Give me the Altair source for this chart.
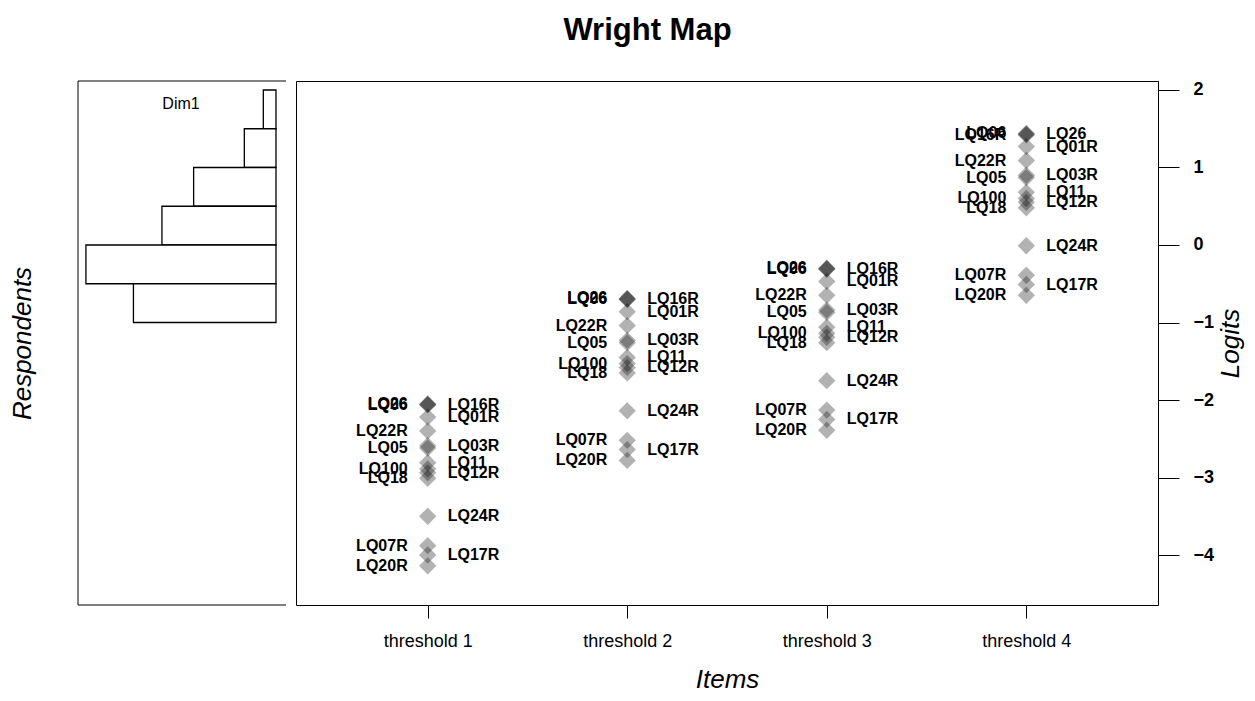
import altair as alt
import pandas as pd

FONT = "Liberation Sans"

# ---- data ----
items = ["LQ26", "LQ06", "LQ16R", "LQ01R", "LQ22R", "LQ03R", "LQ05", "LQ11",
         "LQ100", "LQ12R", "LQ18", "LQ24R", "LQ07R", "LQ17R", "LQ20R"]
thresholds = ["threshold 1", "threshold 2", "threshold 3", "threshold 4"]

t1 = [-2.05, -2.06, -2.06, -2.22, -2.40, -2.59, -2.62, -2.81, -2.89, -2.94, -3.01, -3.50, -3.88, -4.00, -4.14]
t2 = [-0.69, -0.70, -0.70, -0.86, -1.04, -1.23, -1.26, -1.45, -1.53, -1.58, -1.65, -2.14, -2.52, -2.64, -2.78]
t3 = [-0.30, -0.31, -0.31, -0.47, -0.65, -0.84, -0.87, -1.06, -1.14, -1.19, -1.26, -1.75, -2.13, -2.25, -2.39]
t4 = [1.43, 1.44, 1.42, 1.27, 1.09, 0.90, 0.87, 0.68, 0.60, 0.55, 0.48, -0.01, -0.39, -0.51, -0.65]

side_a = ["L", "L", "R", "R", "L", "R", "L", "R", "L", "R", "L", "R", "L", "R", "L"]
side_b = ["R", "L", "L", "R", "L", "R", "L", "R", "L", "R", "L", "R", "L", "R", "L"]

bin_lo = [1.5, 1.0, 0.5, 0.0, -0.5, -1.0]
bin_hi = [2.0, 1.5, 1.0, 0.5, 0.0, -0.5]
counts = [4, 10, 26, 36, 60, 45]

rows = []
for name, vals, sides in zip(thresholds, [t1, t2, t3, t4], [side_a, side_a, side_a, side_b]):
    for it, v, s in zip(items, vals, sides):
        rows.append({"threshold": name, "item": it, "logit": v, "side": s})
df = pd.DataFrame(rows)
hist = pd.DataFrame({"lo": bin_lo, "hi": bin_hi, "n": counts})

H = 524
WM = 862
WL = 208
yscale = alt.Scale(domain=[-4.645, 2.116], nice=False, zero=False)

# ---- main panel ----
xscale = alt.Scale(type="point", domain=thresholds, padding=0.66)
base = alt.Chart(df).encode(
    x=alt.X("threshold:O", scale=xscale, sort=thresholds,
            axis=alt.Axis(title="Items", orient="bottom", domain=False, grid=False,
                          tickSize=13, tickColor="black", tickWidth=1,
                          labelAngle=0, labelFont=FONT, labelFontSize=18, labelColor="black",
                          labelPadding=14,
                          titleFont=FONT, titleFontSize=26, titleFontStyle="italic",
                          titleFontWeight="normal", titleColor="black", titlePadding=16)),
    y=alt.Y("logit:Q", scale=yscale,
            axis=alt.Axis(title="Logits", orient="right", domain=False, grid=False,
                          values=[-4, -3, -2, -1, 0, 1, 2],
                          tickSize=21, tickColor="black", tickWidth=1,
                          labelFont=FONT, labelFontSize=18, labelFontWeight="bold",
                          labelColor="black", labelPadding=14,
                          titleFont=FONT, titleFontSize=26, titleFontStyle="italic",
                          titleFontWeight="normal", titleColor="black", titleAngle=270,
                          titleBaseline="top", titlePadding=4)),
)
pts = base.mark_point(shape="diamond", filled=True, size=300, color="black",
                      opacity=0.3, strokeWidth=0)
lbl_l = base.transform_filter(alt.datum.side == "L").mark_text(
    align="right", baseline="middle", dx=-20, font=FONT, fontWeight="bold",
    fontSize=16, color="black").encode(text="item:N")
lbl_r = base.transform_filter(alt.datum.side == "R").mark_text(
    align="left", baseline="middle", dx=20, font=FONT, fontWeight="bold",
    fontSize=16, color="black").encode(text="item:N")
main = alt.layer(pts, lbl_l, lbl_r).properties(width=WM, height=H)

# ---- respondents histogram ----
bars = alt.Chart(hist).mark_bar(fill="white", stroke="black", strokeWidth=1.3).encode(
    y=alt.Y("lo:Q", scale=yscale,
            axis=alt.Axis(title="Respondents", labels=False, ticks=False, domain=False,
                          grid=False, titleFont=FONT, titleFontSize=26,
                          titleFontStyle="italic", titleFontWeight="normal",
                          titleColor="black", titlePadding=43)),
    y2="hi:Q",
    x=alt.X("n:Q", scale=alt.Scale(domain=[-3.16, 62.5], reverse=True, nice=False, zero=False),
            axis=None),
    x2=alt.datum(0),
)
one = pd.DataFrame({"a": [0]})
frame_top = alt.Chart(one).mark_rule(color="black", strokeWidth=1).encode(
    x=alt.value(0), x2=alt.value(WL), y=alt.value(0))
frame_bot = alt.Chart(one).mark_rule(color="black", strokeWidth=1).encode(
    x=alt.value(0), x2=alt.value(WL), y=alt.value(H))
frame_left = alt.Chart(one).mark_rule(color="black", strokeWidth=1).encode(
    x=alt.value(0), y=alt.value(0), y2=alt.value(H))
dim = alt.Chart(pd.DataFrame({"t": ["Dim1"]})).mark_text(
    font=FONT, fontSize=16, color="black", align="center", baseline="middle").encode(
    text="t:N", x=alt.value(103), y=alt.value(23))
left = alt.layer(bars, frame_top, frame_bot, frame_left, dim).properties(
    width=WL, height=H, view=alt.ViewBackground(strokeOpacity=0))

chart = alt.hconcat(left, main, spacing=8).properties(
    title=alt.TitleParams("Wright Map", font=FONT, fontSize=31, fontWeight="bold",
                          color="black", anchor="middle", offset=33, dx=21),
    padding={"left": 1, "top": 7, "right": 0, "bottom": 0},
    background="white",
).configure_view(stroke="black", strokeWidth=1)

chart.save("out.html", embed_options={"renderer": "svg", "actions": False})
